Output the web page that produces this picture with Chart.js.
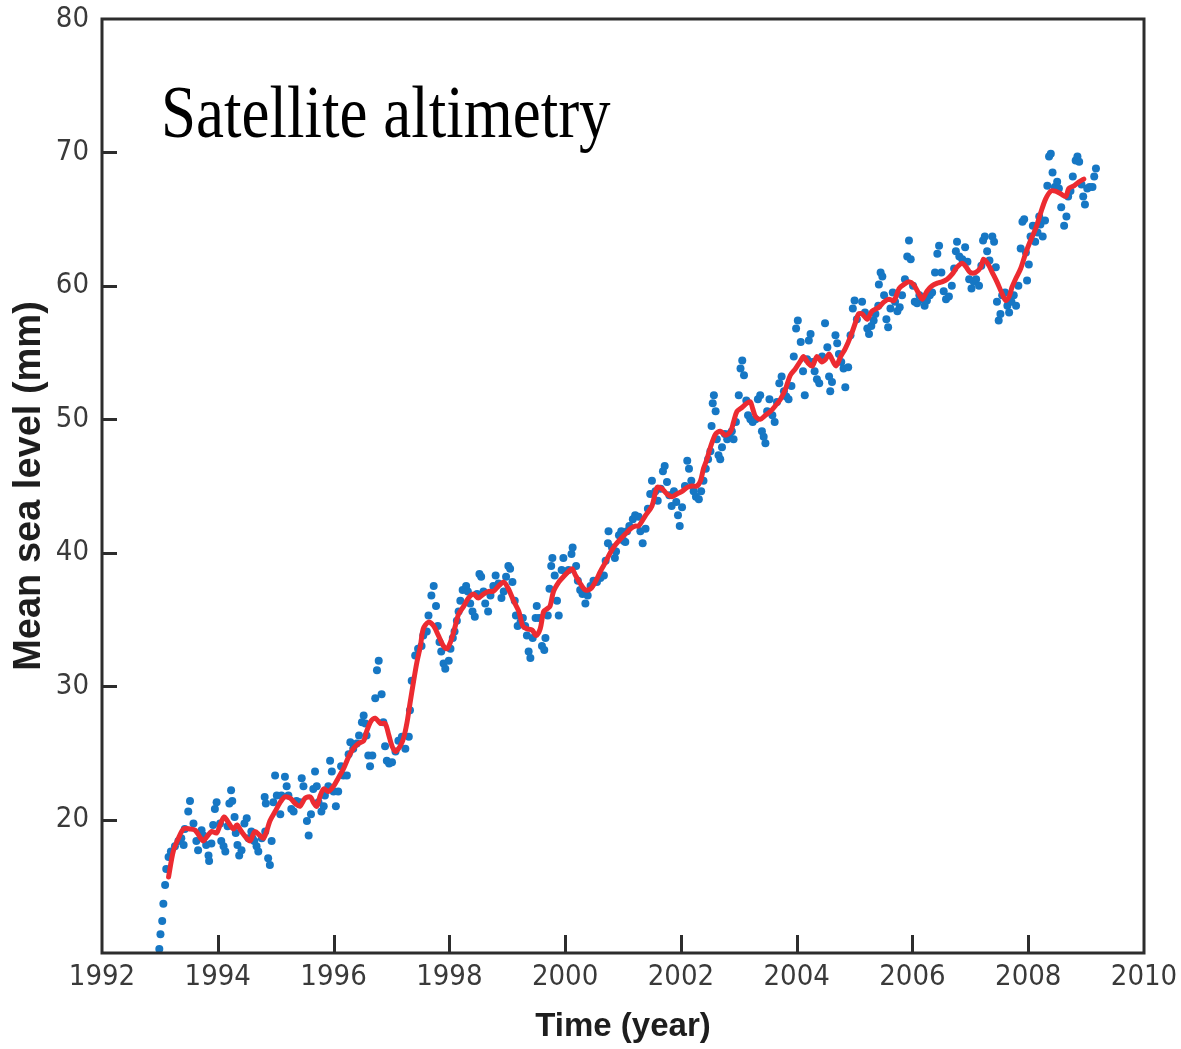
<!DOCTYPE html>
<html>
<head>
<meta charset="utf-8">
<script src="https://cdn.jsdelivr.net/npm/chart.js@4/dist/chart.umd.min.js"></script>
<style>
  html, body { margin: 0; padding: 0; background: #ffffff; }
  canvas { display: block; }
</style>
</head>
<body>
<canvas id="msl" width="1181" height="1049"></canvas>
<script>
// ~10-day global mean sea level estimates (mm)
const altimetryYears = [
  1992.99,1993.01,1993.04,1993.06,1993.09,1993.11,1993.15,1993.19,1993.26,1993.32,1993.37,1993.41,1993.43,1993.49,1993.52,1993.58,1993.63,1993.66,1993.72,1993.75,
  1993.80,1993.84,1993.85,1993.89,1993.92,1993.95,1993.98,1994.04,1994.06,1994.10,1994.13,1994.17,1994.20,1994.23,1994.25,1994.29,1994.31,1994.34,1994.37,1994.41,
  1994.46,1994.50,1994.53,1994.58,1994.60,1994.63,1994.67,1994.70,1994.76,1994.81,1994.82,1994.83,1994.87,1994.90,1994.93,1994.96,1994.99,1995.02,1995.08,1995.10,
  1995.16,1995.19,1995.22,1995.27,1995.31,1995.36,1995.42,1995.45,1995.48,1995.54,1995.57,1995.61,1995.65,1995.68,1995.71,1995.74,1995.79,1995.83,1995.85,1995.91,
  1995.94,1995.97,1996.00,1996.04,1996.08,1996.13,1996.17,1996.23,1996.26,1996.29,1996.34,1996.40,1996.44,1996.49,1996.52,1996.55,1996.57,1996.60,1996.63,1996.67,
  1996.72,1996.75,1996.78,1996.83,1996.86,1996.89,1996.92,1996.96,1997.01,1997.07,1997.12,1997.18,1997.24,1997.30,1997.32,1997.35,1997.41,1997.46,1997.52,1997.55,
  1997.61,1997.64,1997.69,1997.73,1997.77,1997.80,1997.83,1997.86,1997.90,1997.93,1997.99,1998.02,1998.06,1998.09,1998.13,1998.16,1998.19,1998.23,1998.29,1998.32,
  1998.36,1998.40,1998.44,1998.48,1998.52,1998.55,1998.59,1998.62,1998.67,1998.71,1998.76,1998.80,1998.85,1998.90,1998.94,1998.98,1999.02,1999.05,1999.09,1999.13,
  1999.15,1999.18,1999.23,1999.27,1999.31,1999.34,1999.37,1999.40,1999.44,1999.49,1999.51,1999.55,1999.60,1999.64,1999.66,1999.70,1999.73,1999.76,1999.78,1999.82,
  1999.86,1999.89,1999.94,1999.97,2000.01,2000.06,2000.11,2000.13,2000.19,2000.22,2000.26,2000.30,2000.35,2000.39,2000.44,2000.49,2000.55,2000.61,2000.67,2000.70,
  2000.74,2000.75,2000.81,2000.86,2000.88,2000.93,2000.97,2001.01,2001.04,2001.07,2001.11,2001.17,2001.21,2001.27,2001.30,2001.34,2001.39,2001.43,2001.47,2001.50,
  2001.56,2001.60,2001.65,2001.69,2001.72,2001.76,2001.80,2001.84,2001.88,2001.92,2001.95,2001.98,2002.02,2002.07,2002.11,2002.14,2002.18,2002.22,2002.26,2002.31,
  2002.35,2002.39,2002.43,2002.47,2002.51,2002.53,2002.55,2002.57,2002.60,2002.62,2002.65,2002.68,2002.71,2002.76,2002.80,2002.84,2002.88,2002.91,2002.95,2003.00,
  2003.03,2003.06,2003.09,2003.13,2003.16,2003.20,2003.24,2003.29,2003.33,2003.37,2003.40,2003.43,2003.46,2003.49,2003.53,2003.58,2003.62,2003.66,2003.70,2003.74,
  2003.78,2003.82,2003.86,2003.91,2003.95,2003.99,2004.02,2004.07,2004.11,2004.14,2004.18,2004.21,2004.24,2004.27,2004.31,2004.35,2004.39,2004.44,2004.49,2004.53,
  2004.56,2004.58,2004.61,2004.67,2004.70,2004.73,2004.77,2004.81,2004.84,2004.89,2004.93,2004.97,2005.00,2005.04,2005.13,2005.18,2005.22,2005.25,2005.29,2005.33,
  2005.36,2005.41,2005.42,2005.45,2005.48,2005.51,2005.55,2005.58,2005.62,2005.66,2005.70,2005.74,2005.78,2005.82,2005.87,2005.91,2005.94,2005.97,2006.01,2006.04,
  2006.08,2006.12,2006.17,2006.21,2006.25,2006.30,2006.34,2006.39,2006.43,2006.46,2006.50,2006.54,2006.58,2006.63,2006.68,2006.72,2006.75,2006.77,2006.81,2006.86,
  2006.91,2006.95,2006.98,2007.02,2007.06,2007.10,2007.15,2007.19,2007.22,2007.25,2007.29,2007.33,2007.38,2007.41,2007.44,2007.46,2007.49,2007.52,2007.55,2007.60,
  2007.64,2007.67,2007.71,2007.75,2007.79,2007.83,2007.87,2007.90,2007.93,2007.96,2007.98,2008.01,2008.04,2008.08,2008.12,2008.16,2008.19,2008.21,2008.25,2008.29,
  2008.33,2008.36,2008.39,2008.42,2008.46,2008.50,2008.53,2008.57,2008.62,2008.66,2008.69,2008.73,2008.77,2008.82,2008.85,2008.88,2008.92,2008.95,2008.98,2009.02,
  2009.06,2009.11,2009.14,2009.17
];
const altimetryMM = [
  10.3,11.4,12.4,13.7,15.1,16.3,17.2,17.6,18.0,18.4,18.6,18.1,19.3,20.6,21.4,19.7,18.4,17.7,19.2,18.8,
  18.1,17.3,16.9,18.2,19.6,20.8,21.3,19.7,18.4,18.0,17.6,19.5,21.2,22.2,21.4,20.2,19.0,18.1,17.3,17.7,
  19.7,20.1,18.6,19.1,18.6,18.4,18.0,17.6,18.6,21.7,19.1,21.2,17.1,16.6,18.4,21.3,23.3,21.8,20.4,21.8,
  23.2,22.5,21.8,20.8,20.6,21.4,21.3,23.1,22.5,19.9,18.8,20.4,22.3,23.6,22.5,21.3,20.6,21.0,21.8,22.5,
  24.4,23.6,22.1,21.0,22.1,24.0,23.3,23.3,24.9,25.8,25.3,25.7,26.3,27.3,27.8,27.2,26.3,24.8,24.0,24.8,
  29.1,31.2,31.9,29.4,27.3,25.5,24.4,24.2,24.3,25.1,25.9,26.2,25.3,26.2,28.2,30.4,32.3,32.8,33.0,33.8,
  34.1,35.3,36.8,37.5,36.0,34.5,33.3,32.6,31.7,31.3,31.9,32.8,33.6,34.1,34.9,35.6,36.4,37.2,37.5,37.1,
  36.2,35.6,35.2,36.9,38.4,38.2,37.1,36.2,35.6,36.8,37.5,38.3,37.7,36.6,37.1,38.2,39.0,38.8,37.8,36.4,
  35.3,34.5,34.8,35.1,34.5,33.8,32.6,32.1,33.6,35.1,36.0,35.1,33.0,32.7,33.6,35.3,37.3,39.0,39.6,38.3,
  36.4,35.3,38.7,39.6,38.6,38.7,39.9,40.4,39.0,37.9,37.2,36.9,36.2,36.8,37.5,37.9,37.8,38.1,38.3,39.4,
  40.7,41.6,40.4,39.6,40.1,41.3,41.6,40.9,40.8,41.6,42.0,42.5,42.8,42.7,41.6,40.7,41.8,43.3,44.4,45.4,
  44.6,43.9,44.8,46.1,46.5,45.3,44.3,43.5,44.6,43.8,42.8,42.0,43.4,45.0,46.9,46.3,45.4,44.6,44.2,44.0,
  44.6,45.4,46.3,47.0,47.6,49.5,51.2,51.8,50.6,48.5,47.3,47.0,47.9,48.9,48.5,48.9,49.1,48.5,49.8,51.8,
  53.8,54.4,53.3,51.4,50.3,50.0,49.8,50.0,51.5,51.8,49.1,48.7,48.2,50.6,51.5,50.3,49.8,51.3,52.7,53.2,
  52.1,51.7,51.5,52.5,54.7,56.8,57.4,55.8,53.6,51.8,54.5,55.9,56.4,54.3,53.6,53.0,52.7,54.7,57.2,55.4,
  53.2,52.1,52.8,56.3,55.7,54.9,54.3,53.8,52.4,53.9,56.3,58.3,58.9,57.5,58.8,58.0,56.8,56.4,57.0,57.4,
  57.9,58.5,60.1,61.0,60.7,59.3,57.5,56.9,58.3,59.5,58.8,58.1,58.4,59.3,60.5,62.2,63.4,62.0,60.0,58.8,
  58.7,59.3,59.0,58.5,58.9,59.3,59.5,61.0,62.4,63.0,61.0,59.6,59.0,59.2,60.0,61.3,62.6,63.3,62.2,62.0,
  62.9,61.8,60.5,59.8,60.3,60.5,60.0,61.5,63.4,63.7,62.6,61.9,63.7,63.3,61.4,58.8,57.4,57.9,59.3,59.5,
  58.5,58.0,58.8,59.3,58.5,60.0,62.8,64.8,65.0,62.5,60.4,61.6,63.7,64.5,63.3,64.0,65.2,64.6,63.7,64.9,
  67.5,69.7,69.9,68.5,67.4,67.8,67.3,65.9,64.5,65.2,66.7,67.1,68.2,69.4,69.7,69.3,67.6,66.7,66.1,67.3,
  67.4,67.4,68.2,68.8
];

// 60-day smoothed series (mm)
const smoothYears = [
  1993.15,1993.23,1993.32,1993.41,1993.52,1993.61,1993.69,1993.75,1993.81,1993.89,1993.98,1994.04,1994.11,1994.18,1994.27,1994.33,1994.41,1994.50,1994.56,1994.64,
  1994.73,1994.79,1994.85,1994.90,1994.99,1995.08,1995.16,1995.25,1995.34,1995.42,1995.51,1995.60,1995.65,1995.71,1995.77,1995.83,1995.91,1996.00,1996.08,1996.17,
  1996.26,1996.34,1996.43,1996.52,1996.57,1996.65,1996.72,1996.81,1996.89,1996.95,1997.01,1997.07,1997.15,1997.21,1997.27,1997.32,1997.38,1997.44,1997.50,1997.55,
  1997.64,1997.73,1997.81,1997.90,1997.96,1998.02,1998.09,1998.16,1998.25,1998.33,1998.42,1998.50,1998.59,1998.68,1998.76,1998.85,1998.94,1999.02,1999.11,1999.20,
  1999.27,1999.34,1999.43,1999.50,1999.57,1999.63,1999.69,1999.74,1999.80,1999.89,1999.97,2000.06,2000.12,2000.18,2000.26,2000.35,2000.44,2000.52,2000.61,2000.70,
  2000.78,2000.87,2000.95,2001.04,2001.13,2001.21,2001.27,2001.39,2001.50,2001.59,2001.67,2001.76,2001.85,2001.93,2002.02,2002.11,2002.19,2002.28,2002.34,2002.39,
  2002.45,2002.51,2002.60,2002.68,2002.77,2002.86,2002.91,2002.97,2003.06,2003.14,2003.20,2003.24,2003.29,2003.37,2003.46,2003.55,2003.63,2003.72,2003.81,2003.89,
  2003.98,2004.07,2004.12,2004.20,2004.27,2004.35,2004.43,2004.50,2004.56,2004.61,2004.68,2004.76,2004.84,2004.93,2005.02,2005.07,2005.13,2005.22,2005.30,2005.42,
  2005.51,2005.59,2005.68,2005.77,2005.85,2005.94,2006.02,2006.10,2006.17,2006.25,2006.34,2006.43,2006.51,2006.60,2006.69,2006.77,2006.86,2006.93,2007.00,2007.09,
  2007.18,2007.23,2007.31,2007.38,2007.46,2007.54,2007.61,2007.67,2007.72,2007.78,2007.87,2007.96,2008.04,2008.13,2008.21,2008.30,2008.39,2008.47,2008.56,2008.65,
  2008.70,2008.79,2008.88,2008.96
];
const smoothMM = [
  15.7,17.6,18.6,19.3,19.3,19.2,18.7,18.4,18.7,19.1,19.0,19.6,20.2,19.8,19.3,19.6,19.1,18.6,18.4,19.1,
  18.8,18.6,19.2,19.9,20.6,21.3,21.7,21.6,21.2,21.0,21.6,21.7,21.3,21.0,21.8,22.3,22.1,22.5,23.1,23.8,
  24.7,25.3,25.7,25.9,26.6,27.4,27.6,27.2,27.2,26.4,25.5,25.1,25.5,26.1,27.3,28.7,30.3,31.8,33.0,34.3,
  34.8,34.5,33.8,33.0,32.8,33.3,34.3,35.4,36.0,36.6,36.9,36.6,36.9,37.1,37.1,37.5,37.8,37.3,36.4,35.6,
  34.5,34.3,34.2,33.8,34.3,35.6,35.8,36.0,37.1,37.8,38.2,38.6,38.8,38.3,37.7,37.2,37.3,37.8,38.6,39.3,
  40.0,40.6,41.0,41.4,41.8,42.0,42.0,42.8,43.5,44.9,44.8,44.4,44.2,44.4,44.6,44.9,45.0,45.0,45.4,46.3,
  47.0,47.9,48.9,49.1,48.8,49.1,49.8,50.6,50.9,51.2,51.3,50.8,50.2,50.0,50.3,50.6,51.0,51.5,52.3,53.3,
  53.8,54.4,54.7,54.2,54.0,54.7,54.3,54.5,54.9,54.5,54.0,54.7,55.3,56.2,57.3,57.9,57.9,57.5,58.1,58.4,
  58.8,59.0,58.9,59.8,60.1,60.3,60.1,59.5,59.0,59.6,60.0,60.2,60.3,60.5,60.9,61.4,61.7,61.4,61.0,61.0,
  61.4,62.0,61.6,61.0,60.3,59.5,58.9,59.2,59.9,60.5,61.3,62.5,63.4,64.3,65.4,66.5,67.1,67.1,66.9,66.7,
  67.3,67.5,67.8,68.0
];

const yearTicks = [1992, 1994, 1996, 1998, 2000, 2002, 2004, 2006, 2008, 2010];
const mmTicks = [10, 20, 30, 40, 50, 60, 70, 80];
const panelLabel = 'Satellite altimetry';
const xTitle = 'Time (year)';
const yTitle = 'Mean sea level (mm)';

const axisInk = '#2d2d2d';
const labelInk = '#3a3a3a';
const condensed = '"DejaVu Sans Condensed", "Liberation Sans", sans-serif';
const sans = '"Liberation Sans", Arial, sans-serif';

// Closed frame with short inward tick marks, plus the panel caption
const framePlugin = {
  id: 'framePlugin',
  afterDatasetsDraw(chart) {
    const { ctx, chartArea: a, scales: { x, y } } = chart;
    ctx.save();
    ctx.strokeStyle = axisInk;
    ctx.lineWidth = 3;
    ctx.lineCap = 'butt';
    ctx.strokeRect(a.left, a.top, a.right - a.left, a.bottom - a.top);
    ctx.beginPath();
    mmTicks.forEach(v => {
      if (v <= y.min || v >= y.max) return;
      const py = Math.round(y.getPixelForValue(v)) + 0.5;
      ctx.moveTo(a.left, py);
      ctx.lineTo(a.left + 15, py);
    });
    yearTicks.forEach(v => {
      if (v <= x.min || v >= x.max) return;
      const px = Math.round(x.getPixelForValue(v)) + 0.5;
      ctx.moveTo(px, a.bottom);
      ctx.lineTo(px, a.bottom - 18);
    });
    ctx.stroke();

    // caption, set in a tall serif face
    ctx.fillStyle = '#000000';
    ctx.font = '63px "Liberation Serif", "Times New Roman", serif';
    ctx.textBaseline = 'alphabetic';
    ctx.textAlign = 'left';
    ctx.translate(a.left + 59, a.top + 118);
    ctx.scale(1, 1.16);
    ctx.fillText(panelLabel, 0, 0);
    ctx.restore();
  }
};

const pts = (xs, ys) => xs.map((v, i) => ({ x: v, y: ys[i] }));

new Chart(document.getElementById('msl'), {
  data: {
    datasets: [
      {
        type: 'line',
        label: 'Smoothed',
        data: pts(smoothYears, smoothMM),
        borderColor: '#ec2b31',
        borderWidth: 5,
        pointRadius: 0,
        tension: 0.3,
        borderJoinStyle: 'round',
        borderCapStyle: 'round',
        fill: false,
        order: 0
      },
      {
        type: 'scatter',
        label: 'Altimetry',
        data: pts(altimetryYears, altimetryMM),
        backgroundColor: '#1677c4',
        borderWidth: 0,
        pointRadius: 4,
        order: 1
      }
    ]
  },
  options: {
    responsive: false,
    animation: false,
    devicePixelRatio: 1,
    layout: { padding: { left: 0, right: 37, top: 19, bottom: 0 } },
    plugins: { legend: { display: false }, tooltip: { enabled: false } },
    scales: {
      x: {
        type: 'linear',
        min: 1992,
        max: 2010,
        afterBuildTicks: s => { s.ticks = yearTicks.map(v => ({ value: v })); },
        afterFit: s => { s.height = 96; s.paddingLeft = 0; s.paddingRight = 0; },
        grid: { display: false, drawTicks: false },
        border: { display: false },
        ticks: {
          padding: 7,
          color: labelInk,
          autoSkip: false,
          maxRotation: 0,
          font: { family: condensed, size: 29 },
          callback: v => String(v)
        },
        title: {
          display: true,
          text: xTitle,
          color: '#1e1e1e',
          font: { family: sans, size: 33, weight: 'bold' },
          padding: { top: 0, bottom: 2 }
        }
      },
      y: {
        type: 'linear',
        min: 10,
        max: 80,
        afterBuildTicks: s => { s.ticks = mmTicks.map(v => ({ value: v })); },
        afterFit: s => { s.width = 102; s.paddingTop = 0; s.paddingBottom = 0; },
        grid: { display: false, drawTicks: false },
        border: { display: false },
        ticks: {
          padding: 13,
          color: labelInk,
          font: { family: condensed, size: 29 },
          callback: v => (v === 10 ? '' : String(v))
        },
        title: {
          display: true,
          text: yTitle,
          color: '#1e1e1e',
          font: { family: sans, size: 38, weight: 'bold' },
          padding: { top: 7, bottom: 0 }
        }
      }
    }
  },
  plugins: [framePlugin]
});
</script>
</body>
</html>
